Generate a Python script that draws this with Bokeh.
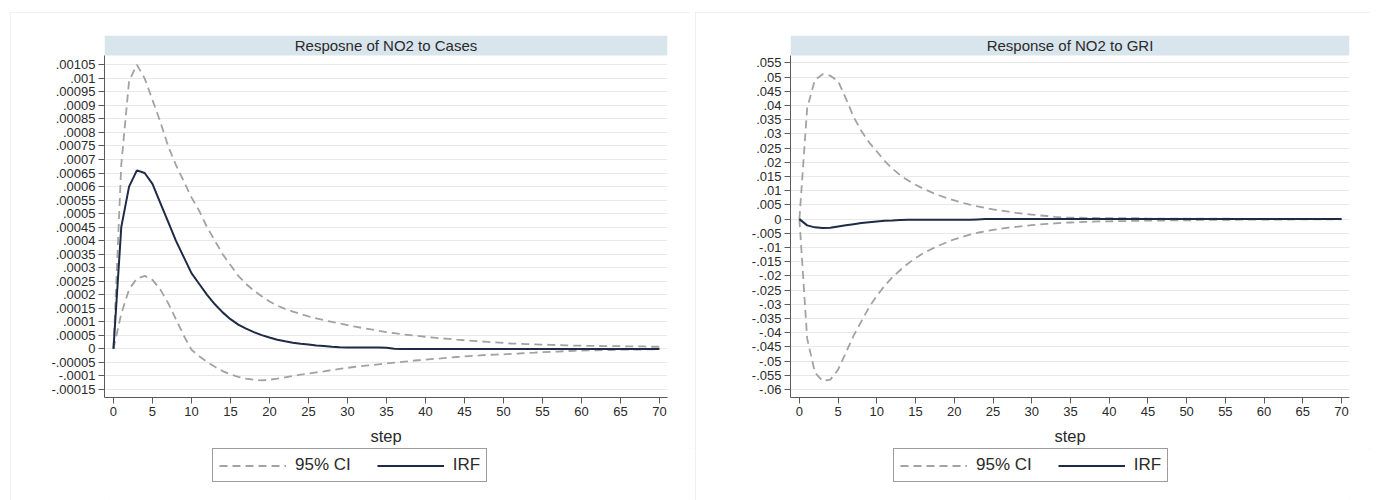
from bokeh.plotting import figure
from bokeh.models import (Range1d, FixedTicker, CustomJSTickFormatter, Legend,
                          LegendItem, Label, BoxAnnotation, ColumnDataSource)
from bokeh.layouts import row, column
from bokeh.embed import file_html
from bokeh.resources import INLINE

# ---------------- data ----------------
steps = list(range(71))

titles = ["Resposne of NO2 to Cases", "Response of NO2 to GRI"]
legend_labels = ["95% CI", "IRF"]
x_label = "step"
x_ticks = list(range(0, 71, 5))
cases_yticks = [round(i * 0.00005, 5) for i in range(-3, 22)]
gri_yticks = [round(i * 0.005, 3) for i in range(-12, 12)]

cases_irf = [0, 0.00045, 0.0006, 0.00066, 0.00065, 0.00061, 0.00054, 0.00047, 0.0004, 0.00034,
             0.00028, 0.00024, 0.0002, 0.000165, 0.000135, 0.00011, 0.00009, 0.000075, 0.000062, 0.000051,
             0.000042, 0.000034, 0.000028, 0.000023, 0.000019, 0.000016, 0.000013, 0.000011, 0.000008, 0.000006,
             0.000005, 0.000005, 0.000005, 0.000005, 0.000005, 0.000004, 0.000001, 0, 0, 0,
             0, 0, 0, 0, 0, 0, 0, 0, 0, 0,
             0, 0, 0, 0, 0, 0, 0, 0, 0, 0,
             0, 0, 0, 0, 0, 0, 0, 0, 0, 0, 0]
cases_hi = [0, 0.00068, 0.00099, 0.00105, 0.001, 0.00092, 0.00084, 0.00075, 0.00068, 0.00062,
            0.00056, 0.00051, 0.00045, 0.0004, 0.00035, 0.00031, 0.00027, 0.00024, 0.000215, 0.000195,
            0.000175, 0.00016, 0.000148, 0.000138, 0.000129, 0.00012, 0.000113, 0.000106, 0.0001, 0.000094,
            0.000088, 0.000082, 0.000077, 0.000072, 0.000067, 0.000062, 0.000058, 0.000054, 0.000051, 0.000048,
            0.000045, 0.000042, 0.000039, 0.000037, 0.000034, 0.000032, 0.00003, 0.000028, 0.000026, 0.000024,
            0.000022, 0.00002, 0.000019, 0.000018, 0.000017, 0.000016, 0.000015, 0.000014, 0.000013, 0.000012,
            0.000012, 0.000011, 0.000011, 0.00001, 0.00001, 0.00001, 0.000009, 0.000009, 0.000009, 0.000008, 0.000008]
cases_lo = [0, 0.00013, 0.00022, 0.00026, 0.00027, 0.000255, 0.00022, 0.00017, 0.00011, 0.00005,
            -0.000003, -0.000027, -0.000048, -0.000066, -0.000082, -0.000094, -0.000103, -0.00011, -0.000114, -0.000116,
            -0.000114, -0.00011, -0.000105, -0.0001, -0.000095, -0.000091, -0.000087, -0.000083, -0.000078, -0.000074,
            -0.00007, -0.000066, -0.000063, -0.00006, -0.000057, -0.000054, -0.000051, -0.000048, -0.000045, -0.000042,
            -0.00004, -0.000037, -0.000035, -0.000032, -0.00003, -0.000028, -0.000026, -0.000024, -0.000022, -0.000021,
            -0.00002, -0.000018, -0.000017, -0.000015, -0.000014, -0.000012, -0.000011, -0.00001, -0.000008, -0.000007,
            -0.000006, -0.000005, -0.000005, -0.000004, -0.000004, -0.000003, -0.000003, -0.000003, -0.000002, -0.000002, -0.000002]

gri_irf = [0, -0.0022, -0.0029, -0.0031, -0.003, -0.0026, -0.0022, -0.0018, -0.0014, -0.0011,
           -0.0008, -0.0006, -0.0005, -0.0003, -0.0002, -0.0002, -0.0002, -0.0002, -0.0002, -0.0002,
           -0.0002, -0.0002, -0.0002, -0.0001, 0, 0, 0, 0, 0, 0,
           0, 0, 0, 0, 0, 0, 0, 0, 0, 0,
           0, 0, 0, 0, 0, 0, 0, 0, 0, 0,
           0, 0, 0, 0, 0, 0, 0, 0, 0, 0,
           0, 0, 0, 0, 0, 0, 0, 0, 0, 0, 0]
gri_hi = [0, 0.039, 0.049, 0.051, 0.0505, 0.0485, 0.0425, 0.036, 0.031, 0.027,
          0.0238, 0.0205, 0.0178, 0.0155, 0.0137, 0.0121, 0.0107, 0.0095, 0.0084, 0.0074,
          0.0066, 0.0058, 0.0051, 0.0045, 0.0039, 0.0034, 0.003, 0.0026, 0.0022, 0.0019,
          0.0016, 0.0013, 0.0011, 0.0008, 0.0006, 0.0005, 0.0005, 0.0004, 0.0004, 0.0003,
          0.0003, 0.0003, 0.0003, 0.0003, 0.0003, 0.0002, 0.0002, 0.0002, 0.0002, 0.0002,
          0.0002, 0.0002, 0.0002, 0.0002, 0.0002, 0.0002, 0.0001, 0.0001, 0.0001, 0.0001,
          0.0001, 0.0001, 0.0001, 0.0001, 0.0001, 0.0001, 0.0001, 0.0001, 0.0001, 0.0001, 0.0001]
gri_lo = [0, -0.042, -0.054, -0.057, -0.0565, -0.053, -0.047, -0.041, -0.036, -0.031,
          -0.027, -0.0235, -0.0205, -0.018, -0.0157, -0.0137, -0.012, -0.0106, -0.0093, -0.0082,
          -0.0071, -0.0063, -0.0055, -0.0048, -0.0043, -0.0038, -0.0034, -0.003, -0.0027, -0.0024,
          -0.0021, -0.0019, -0.0017, -0.0015, -0.0013, -0.0012, -0.0011, -0.001, -0.0009, -0.0008,
          -0.0008, -0.0007, -0.0007, -0.0006, -0.0006, -0.0005, -0.0005, -0.0005, -0.0004, -0.0004,
          -0.0004, -0.0004, -0.0003, -0.0003, -0.0003, -0.0003, -0.0003, -0.0002, -0.0002, -0.0002,
          -0.0002, -0.0002, -0.0002, -0.0002, -0.0001, -0.0001, -0.0001, -0.0001, -0.0001, -0.0001, -0.0001]

# ---------------- style ----------------
FONT = "Liberation Sans"
CI_COLOR = "#a2a2a2"
IRF_COLOR = "#1f2a46"
BAR_COLOR = "#d9e5ec"
GRID_COLOR = "#e8e8e8"
AXIS_COLOR = "#5a5a5a"
TEXT_COLOR = "#2a2a2a"
CI_DASH = "8 5"

fmt = CustomJSTickFormatter(code="""
const v = Math.round(tick * 1e7) / 1e7;
let s = v.toString();
if (s.startsWith("0.")) { s = s.slice(1); }
else if (s.startsWith("-0.")) { s = "-" + s.slice(2); }
return s;
""")


def make_panel(title, irf, lo, hi, yticks, y_lo, y_hi, frame_w, b_left, b_right,
               panel_margin, leg_loc):
    bar_px = 20.0
    plot_px = 342.0
    y_end = y_hi + (y_hi - y_lo) * bar_px / plot_px
    x_start, x_end = -1.15, 71.03
    p = figure(frame_width=frame_w, frame_height=int(plot_px + bar_px),
               min_border_left=b_left, min_border_right=b_right,
               min_border_top=23, min_border_bottom=51,
               x_range=Range1d(x_start, x_end), y_range=Range1d(y_lo, y_end),
               output_backend="svg", toolbar_location=None,
               background_fill_color="white", border_fill_color="white")
    p.outline_line_color = None

    src = ColumnDataSource(dict(step=steps, irf=irf, lo=lo, hi=hi))
    p.line("step", "hi", source=src, line_color=CI_COLOR, line_width=1.8, line_dash=CI_DASH)
    p.line("step", "lo", source=src, line_color=CI_COLOR, line_width=1.8, line_dash=CI_DASH)
    p.line("step", "irf", source=src, line_color=IRF_COLOR, line_width=2)

    # title bar
    p.add_layout(BoxAnnotation(bottom=y_hi, fill_color=BAR_COLOR, fill_alpha=1.0,
                               line_color=None, level="underlay"))
    p.add_layout(Label(x=(x_start + x_end) / 2, y=(y_hi + y_end) / 2, text=title,
                       text_align="center", text_baseline="middle",
                       text_font=FONT, text_font_size="15px", text_color=TEXT_COLOR))

    # axes
    p.xgrid.visible = False
    p.ygrid.ticker = FixedTicker(ticks=yticks)
    p.ygrid.grid_line_color = GRID_COLOR
    p.ygrid.grid_line_width = 1

    ya = p.yaxis[0]
    ya.ticker = FixedTicker(ticks=yticks)
    ya.formatter = fmt
    ya.bounds = (y_lo, y_hi)
    xa = p.xaxis[0]
    xa.ticker = FixedTicker(ticks=x_ticks)
    xa.axis_label = x_label
    for ax in (xa, ya):
        ax.axis_line_color = AXIS_COLOR
        ax.major_tick_line_color = AXIS_COLOR
        ax.minor_tick_line_color = None
        ax.major_tick_out = 6
        ax.major_tick_in = 0
        ax.major_label_text_font = FONT
        ax.major_label_text_font_size = "13px"
        ax.major_label_text_color = TEXT_COLOR
        ax.major_label_standoff = 3
    xa.axis_label_text_font = FONT
    xa.axis_label_text_font_size = "16.5px"
    xa.axis_label_text_font_style = "normal"
    xa.axis_label_text_color = TEXT_COLOR
    xa.axis_label_standoff = 8

    # legend strip below the plot (its sample lines sit outside the visible range)
    total_w = b_left + frame_w + b_right
    lp = figure(width=total_w, height=52, min_border=0,
                x_axis_type=None, y_axis_type=None,
                x_range=Range1d(0, 1), y_range=Range1d(0, 1),
                output_backend="svg", toolbar_location=None,
                background_fill_color="white", border_fill_color="white")
    lp.outline_line_color = None
    lp.grid.visible = False
    l_ci = lp.line(x=[-3, -2], y=[-3, -2], line_color=CI_COLOR, line_width=1.8, line_dash=CI_DASH)
    l_irf = lp.line(x=[-3, -2], y=[-3, -2], line_color=IRF_COLOR, line_width=2)
    legend = Legend(items=[LegendItem(label=legend_labels[0], renderers=[l_ci]),
                           LegendItem(label=legend_labels[1], renderers=[l_irf])],
                    orientation="horizontal", location=leg_loc,
                    label_text_font=FONT, label_text_font_size="17px",
                    label_text_color=TEXT_COLOR, label_height=15,
                    glyph_width=67, glyph_height=15, label_standoff=9, spacing=26,
                    padding=6, margin=0,
                    border_line_color="#3a3a3a", border_line_width=1,
                    background_fill_color="white", background_fill_alpha=1.0)
    lp.add_layout(legend, "center")

    col = column(p, lp, spacing=0)
    col.margin = panel_margin
    col.styles = {"outline": "1px solid #ececec", "outline-offset": "-1px"}
    return col


c1 = make_panel(titles[0], cases_irf, cases_lo, cases_hi, cases_yticks,
                -0.0001796, 0.0010844, 563, 94, 23, (12, 0, 0, 10), (108, 18))
c2 = make_panel(titles[1], gri_irf, gri_lo, gri_hi, gri_yticks,
                -0.0628, 0.0576, 559, 95, 21, (12, 0, 0, 5), (103, 18))

layout = row(c1, c2)
open("out.html", "w").write(file_html(layout, INLINE))
